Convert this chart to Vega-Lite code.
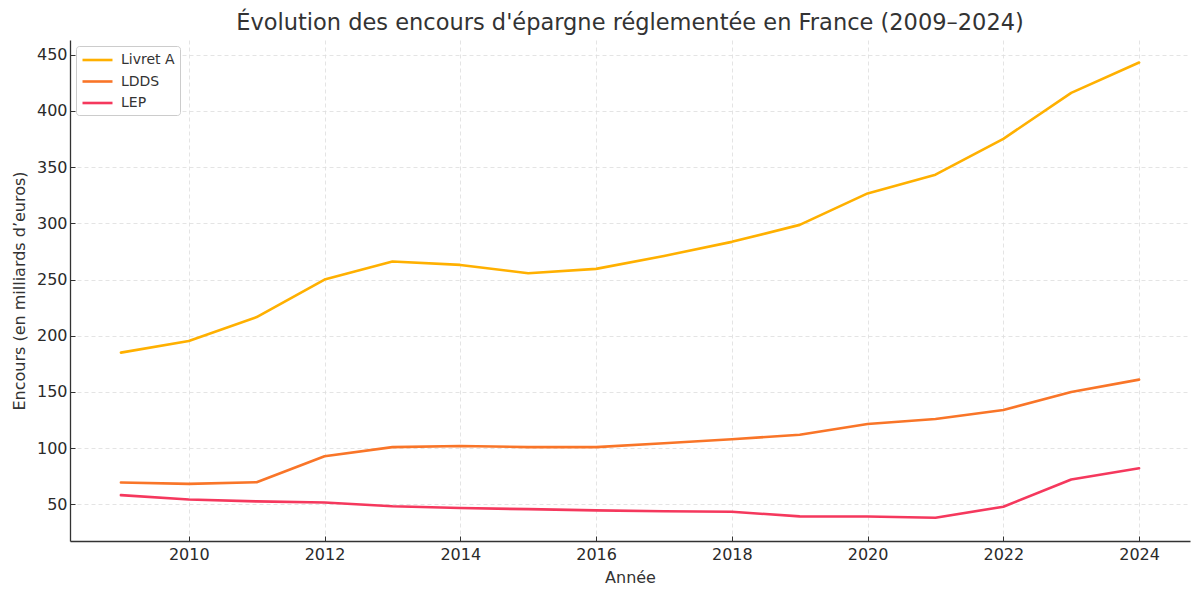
{
  "$schema": "https://vega.github.io/schema/vega-lite/v6.json",
  "autosize": "none",
  "width": 1120,
  "height": 501,
  "padding": {"left": 70, "top": 40, "right": 10, "bottom": 54},
  "background": "white",
  "title": {
    "text": "Évolution des encours d'épargne réglementée en France (2009–2024)",
    "font": "DejaVu Sans",
    "fontSize": 22.5,
    "fontWeight": "normal",
    "color": "#333333",
    "anchor": "middle",
    "offset": 6
  },
  "config": {
    "view": {"stroke": null},
    "font": "DejaVu Sans",
    "axis": {
      "labelFont": "DejaVu Sans",
      "labelFontSize": 16,
      "labelColor": "#2a2a2a",
      "titleFont": "DejaVu Sans",
      "titleFontSize": 16,
      "titleFontWeight": "normal",
      "titleColor": "#333333",
      "domainColor": "#333333",
      "domainWidth": 1.3,
      "tickColor": "#333333",
      "tickSize": -5,
      "gridColor": "#dddddd",
      "gridDash": [4, 3],
      "gridWidth": 0.8
    }
  },
  "data": {
    "values": [
      {"annee": 2009, "produit": "Livret A", "encours": 185},
      {"annee": 2010, "produit": "Livret A", "encours": 195.3},
      {"annee": 2011, "produit": "Livret A", "encours": 216.6},
      {"annee": 2012, "produit": "Livret A", "encours": 250},
      {"annee": 2013, "produit": "Livret A", "encours": 266},
      {"annee": 2014, "produit": "Livret A", "encours": 263},
      {"annee": 2015, "produit": "Livret A", "encours": 255.6},
      {"annee": 2016, "produit": "Livret A", "encours": 259.5},
      {"annee": 2017, "produit": "Livret A", "encours": 271},
      {"annee": 2018, "produit": "Livret A", "encours": 283.5},
      {"annee": 2019, "produit": "Livret A", "encours": 298.6},
      {"annee": 2020, "produit": "Livret A", "encours": 326.6},
      {"annee": 2021, "produit": "Livret A", "encours": 343.2},
      {"annee": 2022, "produit": "Livret A", "encours": 375.1},
      {"annee": 2023, "produit": "Livret A", "encours": 416},
      {"annee": 2024, "produit": "Livret A", "encours": 443},
      {"annee": 2009, "produit": "LDDS", "encours": 69.5},
      {"annee": 2010, "produit": "LDDS", "encours": 68.3},
      {"annee": 2011, "produit": "LDDS", "encours": 69.8},
      {"annee": 2012, "produit": "LDDS", "encours": 92.9},
      {"annee": 2013, "produit": "LDDS", "encours": 101},
      {"annee": 2014, "produit": "LDDS", "encours": 102},
      {"annee": 2015, "produit": "LDDS", "encours": 101},
      {"annee": 2016, "produit": "LDDS", "encours": 101},
      {"annee": 2017, "produit": "LDDS", "encours": 104.4},
      {"annee": 2018, "produit": "LDDS", "encours": 108},
      {"annee": 2019, "produit": "LDDS", "encours": 112},
      {"annee": 2020, "produit": "LDDS", "encours": 121.6},
      {"annee": 2021, "produit": "LDDS", "encours": 126},
      {"annee": 2022, "produit": "LDDS", "encours": 134},
      {"annee": 2023, "produit": "LDDS", "encours": 150},
      {"annee": 2024, "produit": "LDDS", "encours": 161},
      {"annee": 2009, "produit": "LEP", "encours": 58.3},
      {"annee": 2010, "produit": "LEP", "encours": 54.4},
      {"annee": 2011, "produit": "LEP", "encours": 52.7},
      {"annee": 2012, "produit": "LEP", "encours": 51.8},
      {"annee": 2013, "produit": "LEP", "encours": 48.4},
      {"annee": 2014, "produit": "LEP", "encours": 46.8},
      {"annee": 2015, "produit": "LEP", "encours": 45.8},
      {"annee": 2016, "produit": "LEP", "encours": 44.7},
      {"annee": 2017, "produit": "LEP", "encours": 44},
      {"annee": 2018, "produit": "LEP", "encours": 43.5},
      {"annee": 2019, "produit": "LEP", "encours": 39.4},
      {"annee": 2020, "produit": "LEP", "encours": 39.3},
      {"annee": 2021, "produit": "LEP", "encours": 38.2},
      {"annee": 2022, "produit": "LEP", "encours": 48},
      {"annee": 2023, "produit": "LEP", "encours": 72.2},
      {"annee": 2024, "produit": "LEP", "encours": 82.2}
    ]
  },
  "mark": {"type": "line", "strokeWidth": 2.6, "strokeCap": "round", "strokeJoin": "round"},
  "encoding": {
    "x": {
      "field": "annee",
      "type": "quantitative",
      "title": "Année",
      "scale": {"domain": [2008.25, 2024.75], "nice": false, "zero": false},
      "axis": {"values": [2010, 2012, 2014, 2016, 2018, 2020, 2022, 2024], "format": "d", "labelPadding": 10, "titlePadding": 7}
    },
    "y": {
      "field": "encours",
      "type": "quantitative",
      "title": "Encours (en milliards d’euros)",
      "scale": {"domain": [17.5, 463], "nice": false, "zero": false},
      "axis": {"values": [50, 100, 150, 200, 250, 300, 350, 400, 450], "labelPadding": 8, "titlePadding": 9}
    },
    "color": {
      "field": "produit",
      "type": "nominal",
      "sort": ["Livret A", "LDDS", "LEP"],
      "scale": {"domain": ["Livret A", "LDDS", "LEP"], "range": ["#FFB000", "#F97528", "#F5385D"]},
      "legend": {
        "title": null,
        "orient": "top-left",
        "offset": 6,
        "symbolType": "M-1,0H3",
        "symbolStrokeWidth": 2.6,
        "symbolSize": 225,
        "labelFont": "DejaVu Sans",
        "labelFontSize": 14,
        "labelColor": "#333333",
        "labelOffset": 22,
        "rowPadding": 5.5,
        "padding": 5,
        "strokeColor": "#cccccc",
        "fillColor": "white",
        "cornerRadius": 3
      }
    }
  }
}
